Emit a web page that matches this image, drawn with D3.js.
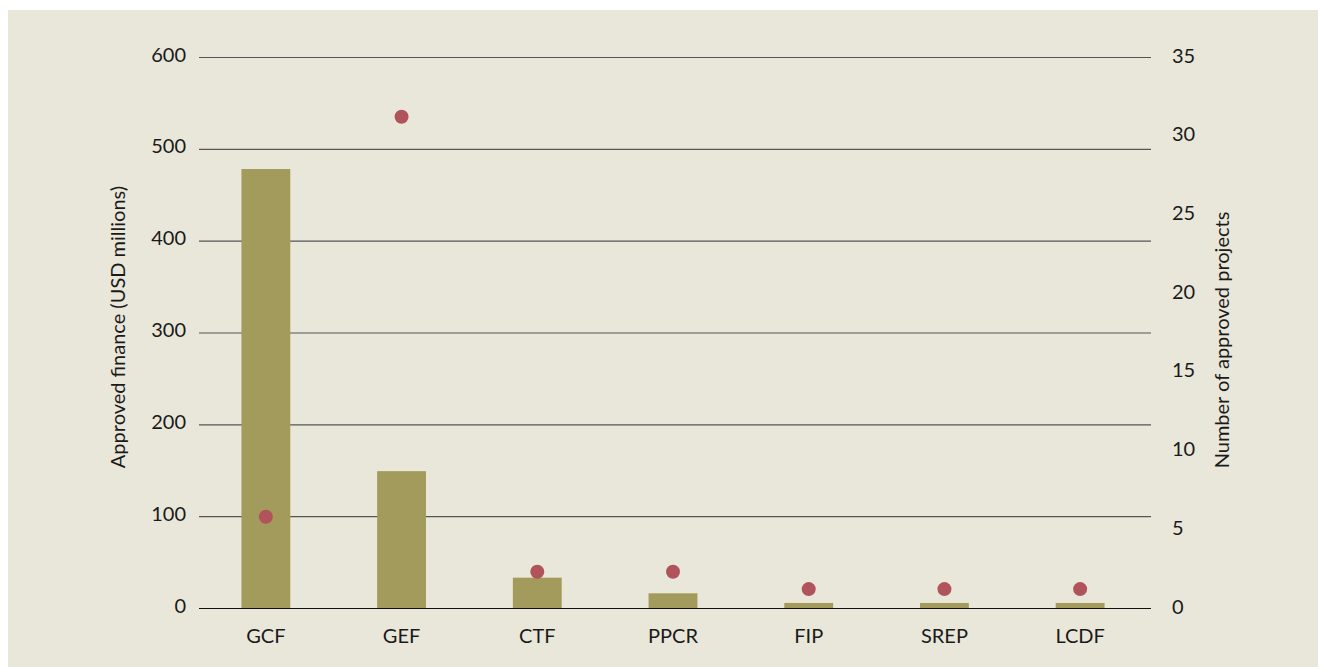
<!DOCTYPE html>
<html>
<head>
<meta charset="utf-8">
<script src="https://cdn.jsdelivr.net/npm/d3@7"></script>
<style>
  body { margin: 0; background: #fff; }
  text { font-family: Lato, "Open Sans", sans-serif; fill: #1a1a1a; }
</style>
</head>
<body>
<div class="container"></div>
<script>
// chart data
var funds = ["GCF", "GEF", "CTF", "PPCR", "FIP", "SREP", "LCDF"];
var finance = [478, 149, 33, 16, 5.5, 5.5, 5.5];      // USD millions
var projects = [5.8, 31.2, 2.3, 2.3, 1.2, 1.2, 1.2];  // number of projects
var leftTicks = [0, 100, 200, 300, 400, 500, 600];
var rightTicks = [0, 5, 10, 15, 20, 25, 30, 35];

var width = 1318, height = 667;
var plotLeft = 199, plotRight = 1151, plotTop = 57, plotBottom = 608;
var fontSize = "20px";

var svg = d3.select(".container")
    .append("svg")
    .attr("width", width)
    .attr("height", height);

// beige panel
svg.append("rect")
    .attr("x", 8).attr("y", 10)
    .attr("width", width - 8).attr("height", height - 10)
    .attr("fill", "#e9e7d9");

// bands are a touch narrower than the gridlines
var x = d3.scaleBand().domain(funds).range([plotLeft - 1, plotRight - 3]).paddingInner(0.64).paddingOuter(0.32);
var yL = d3.scaleLinear().domain([0, 600]).range([plotBottom, plotTop]);
var yR = d3.scaleLinear().domain([0, 35]).range([plotBottom, plotTop]);

// gridlines
svg.append("g").selectAll("line")
    .data(leftTicks)
    .enter()
        .append("line")
        .attr("x1", plotLeft).attr("x2", plotRight)
        .attr("y1", d => yL(d) + 0.5).attr("y2", d => yL(d) + 0.5)
        .attr("stroke", d => d == 0 ? "#111" : "#555")
        .attr("stroke-width", 1.2);

// bars
svg.append("g").selectAll("rect")
    .data(funds)
    .enter()
        .append("rect")
        .attr("x", d => x(d))
        .attr("width", x.bandwidth())
        .attr("y", (d, i) => yL(finance[i]))
        .attr("height", (d, i) => yL(0) - yL(finance[i]))
        .attr("fill", "#a39b5c");

// redraw baseline over bars
svg.append("line")
    .attr("x1", plotLeft).attr("x2", plotRight)
    .attr("y1", yL(0) + 0.5).attr("y2", yL(0) + 0.5)
    .attr("stroke", "#111").attr("stroke-width", 1.2);

// dots
svg.append("g").selectAll("circle")
    .data(funds)
    .enter()
        .append("circle")
        .attr("cx", d => x(d) + x.bandwidth() / 2)
        .attr("cy", (d, i) => yR(projects[i]))
        .attr("r", 7)
        .attr("fill", "#b0535b");

// left axis labels
var leftAxis = svg.append("g")
    .attr("transform", "translate(" + (plotLeft - 13) + ",0)")
    .call(d3.axisLeft(yL).tickValues(leftTicks).tickSize(0).tickPadding(0));
leftAxis.select(".domain").remove();
leftAxis.selectAll("text").style("font-size", fontSize).attr("fill", "#1a1a1a").attr("font-family", null).attr("dy", "0.2em");

// right axis labels
var rightAxis = svg.append("g")
    .attr("transform", "translate(" + (plotRight + 21) + ",0)")
    .call(d3.axisRight(yR).tickValues(rightTicks).tickSize(0).tickPadding(0));
rightAxis.select(".domain").remove();
rightAxis.selectAll("text").style("font-size", fontSize).attr("fill", "#1a1a1a").attr("font-family", null).attr("dy", "0.25em");

// x axis labels
var xAxis = svg.append("g")
    .attr("transform", "translate(0," + (plotBottom + 21) + ")")
    .call(d3.axisBottom(x).tickSize(0).tickPadding(0));
xAxis.select(".domain").remove();
xAxis.selectAll("text").style("font-size", fontSize).attr("fill", "#1a1a1a").attr("font-family", null);

// axis titles
svg.append("text")
    .attr("transform", "translate(125,327) rotate(-90)")
    .style("text-anchor", "middle")
    .style("font-size", fontSize)
    .text("Approved finance (USD millions)");

svg.append("text")
    .attr("transform", "translate(1229,340) rotate(-90)")
    .style("text-anchor", "middle")
    .style("font-size", fontSize)
    .text("Number of approved projects");
</script>
</body>
</html>
